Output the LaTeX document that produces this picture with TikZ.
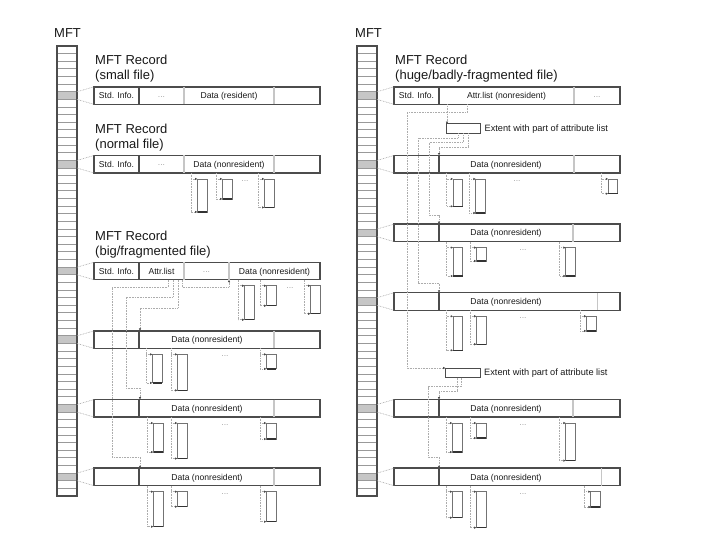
\documentclass[tikz,border=0pt]{standalone}
\usepackage{fontspec}
\setmainfont{Liberation Sans}
\usetikzlibrary{calc,arrows.meta}

\newcommand\mftcol[3]{%
  \node[mftbox, anchor=north west] (#1) at (#2,46) {};
  \foreach \k in {#3} {\fill[gray!45] ($(#1.north west)+(0,{\k*7.627})$) rectangle ($(#1.north east)+(0,{(\k+1)*7.627})$);}
  \foreach \k in {1,...,58} {\draw[mftline] ($(#1.north west)+(0,{\k*7.627})$) -- ($(#1.north east)+(0,{\k*7.627})$);}
  \node[mftbox, anchor=north west] at (#2,46) {};
}
\newcommand\recat[3]{%
  \node[rec, anchor=west] (#1) at ($(#2.north east)+(17,{(#3+0.5)*7.627})$) {};
  \draw[dotl] ($(#2.north east)+(0,{#3*7.627})$) -- (#1.north west);
  \draw[dotl] ($(#2.north east)+(0,{(#3+1)*7.627})$) -- (#1.south west);
}
\newcommand\divat[3][divd]{\draw[#1] ($(#2.north west)+(#3,0)$) -- ($(#2.south west)+(#3,0)$);}
\newcommand\labat[3]{\node[lab] at ($(#1.west)+(#2,3.1)$) {#3};}
\newcommand\dotsat[3]{\node[dotsl] at ($(#1.west)+(#2,1)$) {#3};}
\newcommand\ttlat[3]{\node[ttl] at ($(#1.north west)+(1,-22)$) {#2};\node[ttl] at ($(#1.north west)+(1,-7)$) {#3};}
\newcommand\runb[4]{%
  \coordinate (#4a) at (#2,0);
  \node[runbox, minimum height=#3pt, anchor=north west] (#4) at ($(#4a |- #1.south)+(6.5,6)$) {};
  \draw[black!80, line width=1.3pt] (#4.south west) -- (#4.south east);
  \draw[dotl,->] (#4a |- #1.south) -- (#4a |- #4.south) -- (#4.south west);
  \draw[dotl,->] (#4a |- #4.north) -- (#4.north west);
}
\newcommand\rundots[2]{\node[dotsl] at ($(#1.south west)+(#2,8)$) {...};}

\begin{document}
\begin{tikzpicture}[x=1pt,y=-1pt,
  >={Latex[length=2.4pt,width=2.4pt,color=black!70]},
  mftbox/.style={draw=black!70, line width=1.4pt, minimum width=20pt, minimum height=450pt, inner sep=0pt, outer sep=0pt},
  mftline/.style={draw=gray!80, line width=0.9pt},
  rec/.style={draw=black!70, line width=1.4pt, minimum width=226pt, minimum height=17.5pt, inner sep=0pt, outer sep=0pt},
  divd/.style={draw=black!70, line width=1.1pt},
  divl/.style={draw=gray!45, line width=1.1pt},
  lab/.style={font=\fontsize{8.6}{9}\selectfont, text=black!90, inner sep=0pt, anchor=base},
  dotsl/.style={font=\fontsize{8.6}{9}\selectfont, text=gray!75, inner sep=0pt},
  ttl/.style={font=\fontsize{13}{15}\selectfont, text=black!90, inner sep=0pt, anchor=base west},
  dotl/.style={draw=gray!65, line width=0.6pt, dash pattern=on 0.8pt off 0.8pt},
  runbox/.style={draw=black!55, line width=0.8pt, minimum width=9.5pt, inner sep=0pt, outer sep=0pt},
  ext/.style={draw=black!70, line width=1pt, minimum width=34.5pt, minimum height=9.5pt, inner sep=0pt, outer sep=0pt}
]
\useasboundingbox (0,0) rectangle (720,540);

% ---------------- headings
\node[ttl] at (54,37.3) {MFT};
\node[ttl] at (355,37.3) {MFT};

% ---------------- MFT columns
\mftcol{ML}{57}{6,15,29,38,47,56}
\mftcol{MR}{357}{6,15,24,33,47,56}

% ================= LEFT PANEL
\recat{L1}{ML}{6}
\ttlat{L1}{MFT Record}{(small file)}
\divat{L1}{45}\divat[divl]{L1}{90}\divat[divl]{L1}{180}
\labat{L1}{22.5}{Std. Info.}\dotsat{L1}{67.5}{...}\labat{L1}{135}{Data (resident)}

\recat{L2}{ML}{15}
\ttlat{L2}{MFT Record}{(normal file)}
\divat{L2}{45}\divat[divl]{L2}{90}\divat[divl]{L2}{180}
\labat{L2}{22.5}{Std. Info.}\dotsat{L2}{67.5}{...}\labat{L2}{135}{Data (nonresident)}
\runb{L2}{191}{33}{L2r1}\runb{L2}{216}{20}{L2r2}\runb{L2}{258}{28.5}{L2r3}
\rundots{L2}{151}

\recat{L3}{ML}{29}
\ttlat{L3}{MFT Record}{(big/fragmented file)}
\divat{L3}{45}\divat[divl]{L3}{90}\divat[divl]{L3}{135}
\labat{L3}{22.5}{Std. Info.}\labat{L3}{67.5}{Attr.list}\dotsat{L3}{112.5}{...}\labat{L3}{180.5}{Data (nonresident)}
\runb{L3}{238}{34}{L3r1}\runb{L3}{260}{20}{L3r2}\runb{L3}{304}{28}{L3r3}
\rundots{L3}{196}

\recat{L4}{ML}{38}
\divat{L4}{45}\divat[divl]{L4}{180}
\labat{L4}{113}{Data (nonresident)}
\runb{L4}{146}{28.5}{L4r1}\runb{L4}{171}{36}{L4r2}\runb{L4}{260}{14.5}{L4r3}
\rundots{L4}{131}

\recat{L5}{ML}{47}
\divat{L5}{45}\divat[divl]{L5}{180}
\labat{L5}{113}{Data (nonresident)}
\runb{L5}{147}{29}{L5r1}\runb{L5}{171}{35.5}{L5r2}\runb{L5}{260}{16}{L5r3}
\rundots{L5}{131}

\recat{L6}{ML}{56}
\divat{L6}{45}\divat[divl]{L6}{180}
\labat{L6}{113}{Data (nonresident)}
\runb{L6}{147}{35}{L6r1}\runb{L6}{171}{15}{L6r2}\runb{L6}{260}{30}{L6r3}
\rundots{L6}{131}

% attribute list pointers (left)
\draw[dotl,->] (168,0 |- L3.south) -- (168,287) -- (112,287) -- (112,457) -- (140,457) -- (140,0 |- L6.north);
\draw[dotl,->] (173,0 |- L3.south) -- (173,297) -- (126,297) -- (126,388) -- (140,388) -- (140,0 |- L5.north);
\draw[dotl,->] (178,0 |- L3.south) -- (178,308) -- (140,308) -- (140,0 |- L4.north);
\draw[dotl,->] (182,0 |- L3.south) -- (182,287) -- (229,287) -- (229,0 |- L3.south);

% ================= RIGHT PANEL
\recat{R1}{MR}{6}
\ttlat{R1}{MFT Record}{(huge/badly-fragmented file)}
\divat{R1}{45}\divat[divl]{R1}{180}
\labat{R1}{22.5}{Std. Info.}\labat{R1}{112.5}{Attr.list (nonresident)}\dotsat{R1}{203}{...}

\node[ext, anchor=north west] (E1) at (446,124) {};
\node[lab, anchor=west, font=\fontsize{9.2}{10}\selectfont] at ($(E1.east)+(4,0)$) {Extent with part of attribute list};
\node[ext, anchor=north west] (E2) at (445.5,368) {};
\node[lab, anchor=west, font=\fontsize{9.2}{10}\selectfont] at ($(E2.east)+(4,0)$) {Extent with part of attribute list};

\recat{R2}{MR}{15}
\divat{R2}{45}\divat[divl]{R2}{180}
\labat{R2}{112}{Data (nonresident)}
\runb{R2}{446.7}{27.4}{R2r1}\runb{R2}{469.3}{34}{R2r2}\runb{R2}{601.7}{14.7}{R2r3}
\rundots{R2}{123}

\recat{R3}{MR}{24}
\divat{R3}{45}\divat[divl]{R3}{179}
\labat{R3}{112}{Data (nonresident)}
\runb{R3}{446.7}{28.4}{R3r1}\runb{R3}{470}{13.4}{R3r2}\runb{R3}{559.3}{28.4}{R3r3}
\rundots{R3}{129}

\recat{R4}{MR}{33}
\divat{R4}{45}\divat[divl]{R4}{203.5}
\labat{R4}{112}{Data (nonresident)}
\runb{R4}{446.7}{34}{R4r1}\runb{R4}{470}{28}{R4r2}\runb{R4}{580}{14.7}{R4r3}
\rundots{R4}{129}

\recat{R5}{MR}{47}
\divat{R5}{45}\divat[divl]{R5}{179}
\labat{R5}{112}{Data (nonresident)}
\runb{R5}{446}{29}{R5r1}\runb{R5}{470}{15}{R5r2}\runb{R5}{559.3}{37.6}{R5r3}
\rundots{R5}{129}

\recat{R6}{MR}{56}
\divat{R6}{45}\divat[divl]{R6}{207.5}
\labat{R6}{112}{Data (nonresident)}
\runb{R6}{446}{26}{R6r1}\runb{R6}{470}{36}{R6r2}\runb{R6}{584.3}{15.3}{R6r3}
\rundots{R6}{129}

% attribute list pointers (right)
\draw[dotl,->] (447,0 |- R1.south) -- (447,0 |- E1.north);
\draw[dotl,->] (467,0 |- R1.south) -- (467,112.7) -- (407,112.7) -- (407,0 |- E2.north) -- (E2.north west);
\draw[dotl,->] (468,0 |- E1.south) -- (468,147) -- (439,147) -- (439,0 |- R2.north);
\draw[dotl,->] (463,0 |- E1.south) -- (463,142.5) -- (429,142.5) -- (429,215) -- (439,215) -- (439,0 |- R3.north);
\draw[dotl,->] (458,0 |- E1.south) -- (458,138) -- (418,138) -- (418,283) -- (439,283) -- (439,0 |- R4.north);
\draw[dotl,->] (457,0 |- E2.south) -- (457,391) -- (439,391) -- (439,0 |- R5.north);
\draw[dotl,->] (461,0 |- E2.south) -- (461,386.5) -- (428,386.5) -- (428,457) -- (439,457) -- (439,0 |- R6.north);
\end{tikzpicture}
\end{document}
